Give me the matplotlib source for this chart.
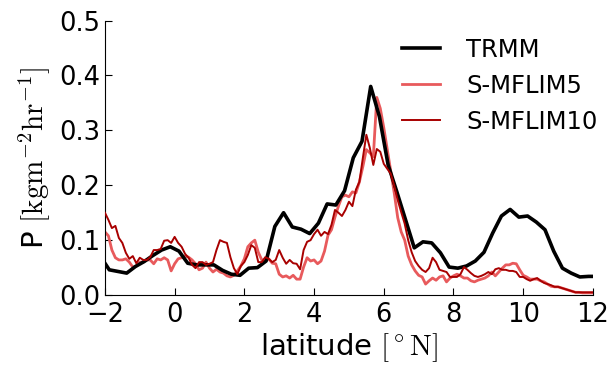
import numpy as np
import matplotlib
matplotlib.use("Agg")
import matplotlib.pyplot as plt

plt.rcParams["mathtext.fontset"] = "cm"

# TRMM, 0.25 degree grid (cell centres)
lat_trmm = np.arange(-2.125, 12.126, 0.25)
p_trmm = [0.070, 0.046, 0.043, 0.040, 0.052, 0.061, 0.072, 0.082, 0.088, 0.080,
          0.058, 0.055, 0.055, 0.055, 0.045, 0.038, 0.036, 0.049, 0.050, 0.062,
          0.125, 0.150, 0.124, 0.120, 0.112, 0.131, 0.166, 0.164, 0.190, 0.250,
          0.280, 0.380, 0.325, 0.237, 0.188, 0.137, 0.086, 0.097, 0.095, 0.077,
          0.051, 0.049, 0.053, 0.062, 0.078, 0.113, 0.144, 0.156, 0.142, 0.144,
          0.133, 0.119, 0.080, 0.049, 0.040, 0.033, 0.034, 0.034]

# model runs, 0.1 degree grid
lat_model = np.round(np.arange(-2.0, 12.001, 0.1), 2)
p_mflim5 = [0.115, 0.108, 0.082, 0.068, 0.064, 0.064, 0.066, 0.060, 0.051, 0.053,
            0.060, 0.060, 0.064, 0.064, 0.057, 0.066, 0.064, 0.068, 0.064, 0.044,
            0.057, 0.066, 0.068, 0.071, 0.069, 0.064, 0.057, 0.046, 0.049, 0.060,
            0.049, 0.042, 0.047, 0.042, 0.040, 0.035, 0.033, 0.036, 0.044, 0.053,
            0.066, 0.088, 0.095, 0.100, 0.078, 0.064, 0.064, 0.066, 0.058, 0.057,
            0.038, 0.033, 0.035, 0.031, 0.036, 0.029, 0.029, 0.051, 0.068, 0.062,
            0.064, 0.057, 0.062, 0.080, 0.109, 0.119, 0.142, 0.162, 0.179, 0.182,
            0.179, 0.188, 0.186, 0.206, 0.234, 0.265, 0.259, 0.252, 0.360, 0.340,
            0.305, 0.265, 0.224, 0.186, 0.141, 0.115, 0.100, 0.071, 0.055, 0.044,
            0.036, 0.033, 0.020, 0.026, 0.031, 0.027, 0.033, 0.035, 0.024, 0.031,
            0.035, 0.038, 0.035, 0.031, 0.031, 0.026, 0.024, 0.027, 0.029, 0.031,
            0.035, 0.042, 0.035, 0.042, 0.049, 0.055, 0.055, 0.058, 0.057, 0.046,
            0.036, 0.033, 0.029, 0.029, 0.029, 0.026, 0.024, 0.020, 0.016, 0.015,
            0.015, 0.013, 0.011, 0.009, 0.007, 0.005, 0.005, 0.004, 0.004, 0.004,
            0.004]
p_mflim10 = [0.150, 0.137, 0.122, 0.126, 0.104, 0.095, 0.077, 0.066, 0.071, 0.058,
             0.068, 0.064, 0.064, 0.069, 0.082, 0.082, 0.084, 0.099, 0.100, 0.095,
             0.106, 0.095, 0.088, 0.075, 0.068, 0.055, 0.049, 0.060, 0.060, 0.055,
             0.057, 0.060, 0.082, 0.100, 0.097, 0.095, 0.069, 0.049, 0.038, 0.053,
             0.060, 0.073, 0.091, 0.086, 0.060, 0.060, 0.069, 0.066, 0.060, 0.064,
             0.082, 0.068, 0.057, 0.064, 0.058, 0.057, 0.047, 0.082, 0.097, 0.100,
             0.111, 0.119, 0.108, 0.115, 0.111, 0.128, 0.155, 0.150, 0.144, 0.155,
             0.170, 0.162, 0.192, 0.206, 0.250, 0.292, 0.268, 0.237, 0.266, 0.261,
             0.239, 0.230, 0.221, 0.199, 0.173, 0.151, 0.130, 0.100, 0.078, 0.062,
             0.053, 0.046, 0.042, 0.049, 0.068, 0.060, 0.046, 0.044, 0.042, 0.033,
             0.033, 0.033, 0.038, 0.051, 0.046, 0.040, 0.035, 0.033, 0.035, 0.038,
             0.042, 0.038, 0.047, 0.049, 0.046, 0.046, 0.044, 0.044, 0.042, 0.033,
             0.033, 0.029, 0.026, 0.029, 0.031, 0.026, 0.022, 0.020, 0.018, 0.015,
             0.015, 0.013, 0.011, 0.009, 0.007, 0.005, 0.005, 0.005, 0.005, 0.005,
             0.005]

xticks = [-2, 0, 2, 4, 6, 8, 10, 12]
yticks = [0.0, 0.1, 0.2, 0.3, 0.4, 0.5]

fig = plt.figure(figsize=(6.10, 3.67), dpi=100)
ax = fig.add_axes([0.172, 0.196, 0.800, 0.748])

ax.plot(lat_trmm, p_trmm, color="black", lw=2.6, label="TRMM", zorder=3)
ax.plot(lat_model, p_mflim5, color="#e85a5c", lw=2.0, label="S-MFLIM5", zorder=2)
ax.plot(lat_model, p_mflim10, color="#a80000", lw=1.4, label="S-MFLIM10", zorder=4)

ax.set_xlim(-2, 12)
ax.set_ylim(0, 0.5)
ax.set_xticks(xticks)
ax.set_yticks(yticks)
ax.set_yticklabels([f"{v:.1f}" for v in yticks])
ax.spines["top"].set_visible(False)
ax.spines["right"].set_visible(False)
ax.tick_params(direction="in", length=5, labelsize=18.5, top=False, right=False)
ax.tick_params(axis="x", pad=5)

ax.set_xlabel(r"latitude $[^\circ\mathrm{N}]$", fontsize=21, labelpad=2)
ax.set_ylabel(r"P $[\mathrm{kgm^{-2}hr^{-1}}]$", fontsize=21, labelpad=4)

leg = ax.legend(loc="upper right", bbox_to_anchor=(1.045, 1.0), frameon=False,
                fontsize=17.5, handlelength=1.55, handletextpad=1.1,
                labelspacing=0.5, borderaxespad=0.3)

fig.savefig("out.png", dpi=100)
